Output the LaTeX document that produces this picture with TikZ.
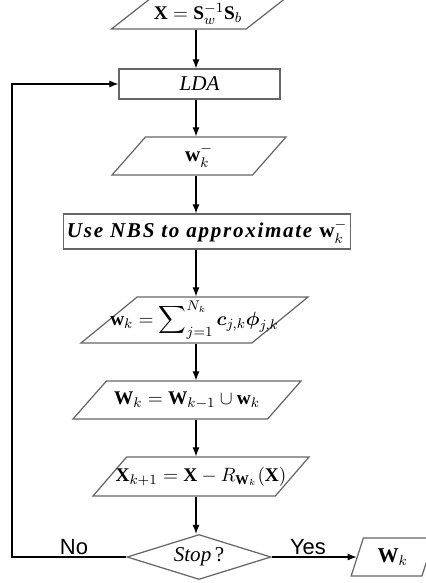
\documentclass[tikz,border=0pt]{standalone}
\usepackage{amsmath}
\usepackage{fontspec}
\setmainfont{Liberation Serif}
\newfontfamily\labelfont{Liberation Sans}
\usetikzlibrary{shapes.geometric, arrows.meta, positioning}

\begin{document}
\begin{tikzpicture}[
    x=0.2mm, y=-0.2mm, % one unit is one pixel of the original
    box/.style={rectangle, draw=black!60, line width=0.7pt, inner sep=2pt, font=\fontsize{12}{14}\selectfont},
    io/.style 2 args={trapezium, trapezium stretches body, trapezium left angle=#1, trapezium right angle=#2, draw=black!60, line width=0.7pt, inner sep=2pt, font=\fontsize{12}{14}\selectfont},
    wide/.style={inner xsep=-8mm, font=\fontsize{11}{13}\selectfont}, % text runs into the slanted ends
    decision/.style={diamond, draw=black!60, line width=0.7pt, inner sep=0pt, aspect=3, font=\fontsize{12}{14}\selectfont},
    answer/.style={font=\labelfont\fontsize{12.5}{14}\selectfont},
    arrow/.style={-{Latex[length=1.8mm, width=1.4mm]}, line width=0.6pt}
]

% Frame of the original picture
\useasboundingbox (0,0) rectangle (425,583);
\coordinate (axis) at (196,0);

% Main chain
\node (scatter) at (198,14) [io={36}{144}, wide, minimum width=34.6mm, minimum height=6mm] {$\mathbf{X} = \mathbf{S}_w^{-1}\mathbf{S}_b$};
\node (lda) at (199.5,84) [box, minimum width=32.2mm, minimum height=6mm] {\textit{LDA}};
\node (wminus) at (199,156) [io={42}{138}, minimum width=34.8mm, minimum height=7.6mm] {$\mathbf{w}_k^{-}$};
\node (nbs) at (207,231.5) [box, minimum width=56.8mm, minimum height=7mm] {\textbf{\textit{\addfontfeatures{LetterSpace=8}Use NBS to approximate}} $\mathbf{w}_k^{-}$};
\node (wsum) at (194.5,320) [io={39}{141}, wide, minimum width=45.4mm, minimum height=9.2mm] {$\mathbf{w}_k = \displaystyle\sum\nolimits_{j=1}^{N_k} \boldsymbol{c}_{j,k}\boldsymbol{\phi}_{j,k}$};
\node (wunion) at (187,400) [io={36}{144}, wide, minimum width=45.6mm, minimum height=7.6mm] {$\mathbf{W}_k = \mathbf{W}_{k-1} \cup \mathbf{w}_k$};
\node (xnext) at (201,476.5) [io={38}{142}, wide, minimum width=43.2mm, minimum height=7.8mm] {$\mathbf{X}_{k+1} = \mathbf{X} - R_{\mathbf{W}_k}(\mathbf{X})$};
\node (stop) at (199,557) [decision, minimum width=28.8mm, minimum height=9mm] {\textit{Stop}\,?};

% Output
\node (wout) [io={63}{117}, right=17mm of stop, minimum width=16.6mm, minimum height=7.6mm] {$\mathbf{W}_k$};
\coordinate (loop) at (12,557);

% Connections
\draw [arrow] (scatter.south -| axis) -- (lda.north -| axis);
\draw [arrow] (lda.south -| axis) -- (wminus.north -| axis);
\draw [arrow] (wminus.south -| axis) -- (nbs.north -| axis);
\draw [arrow] (nbs.south -| axis) -- (wsum.north -| axis);
\draw [arrow] (wsum.south -| axis) -- (wunion.north -| axis);
\draw [arrow] (wunion.south -| axis) -- (xnext.north -| axis);
\draw [arrow] (xnext.south -| axis) -- (stop.north -| axis);
\draw [arrow] (stop.east) -- (wout.west);
\draw [arrow] (stop.west) -- (loop) |- (lda.west);

% Labels
\node (no) at (74,547) [answer] {No};
\node (yes) at (308,547) [answer] {Yes};

\end{tikzpicture}
\end{document}
